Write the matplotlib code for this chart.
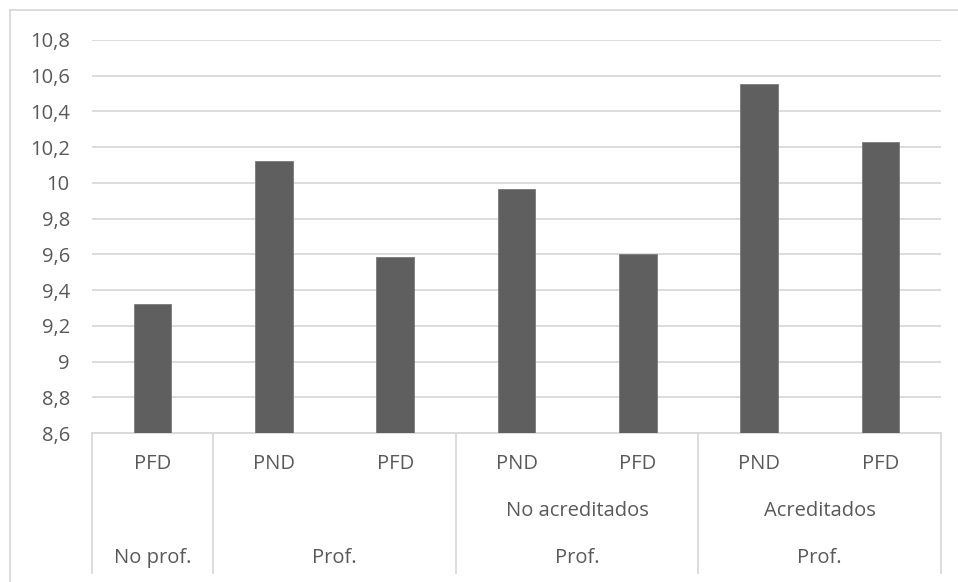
import numpy as np
import matplotlib.pyplot as plt
from matplotlib.lines import Line2D
from matplotlib import ticker

# mean scores per group
values = [9.32, 10.12, 9.585, 9.965, 9.60, 10.555, 10.23]
level1 = ["PFD", "PND", "PFD", "PND", "PFD", "PND", "PFD"]
# (first index, last index, label) for the lower category rows
level2 = [(3, 4, "No acreditados"), (5, 6, "Acreditados")]
level3 = [(0, 0, "No prof."), (1, 2, "Prof."), (3, 4, "Prof."), (5, 6, "Prof.")]
yticks = [8.6, 8.8, 9.0, 9.2, 9.4, 9.6, 9.8, 10.0, 10.2, 10.4, 10.6, 10.8]

plt.rcParams['font.family'] = ['Open Sans', 'DejaVu Sans']
txt = "#595959"
grid = "#d9d9d9"
fs = 14.5

fig = plt.figure(figsize=(9.58, 5.82), dpi=100)
W, H = 958, 582
ax = fig.add_axes([92 / W, 1 - 433 / H, (941 - 92) / W, (433 - 40) / H])

x = np.arange(len(values))
ax.bar(x, values, width=0.31, color="#5f5f5f", edgecolor="#7a7a7a", linewidth=0.6, zorder=3)

ax.set_xlim(-0.5, len(values) - 0.5)
ax.set_ylim(yticks[0], yticks[-1])
ax.set_yticks(yticks)
ax.yaxis.set_major_formatter(ticker.FuncFormatter(lambda v, p: f"{v:g}".replace(".", ",")))
ax.tick_params(axis="y", length=0, pad=16, labelsize=fs, labelcolor=txt)
ax.set_xticks([])
ax.grid(axis="y", color=grid, linewidth=1.3, zorder=0)
for s in ax.spines.values():
    s.set_visible(False)

# multi-level category axis, rows placed in axes fraction below the plot
ah = 433 - 40
y1, y2, y3, ybot = [(433 - py) / ah for py in (464, 511, 558, 573)]
tr = ax.get_xaxis_transform()
for i, lab in enumerate(level1):
    ax.text(i, y1, lab, transform=tr, ha="center", va="center", fontsize=fs, color=txt)
for a, b, lab in level2:
    ax.text((a + b) / 2, y2, lab, transform=tr, ha="center", va="center", fontsize=fs, color=txt)
for a, b, lab in level3:
    ax.text((a + b) / 2, y3, lab, transform=tr, ha="center", va="center", fontsize=fs, color=txt)

ax.add_line(Line2D([-0.5, len(values) - 0.5], [0, 0], transform=tr, color=grid,
                   linewidth=1.3, clip_on=False))
for b in [-0.5, 0.5, 2.5, 4.5, 6.5]:
    ax.add_line(Line2D([b, b], [0, ybot], transform=tr, color=grid,
                       linewidth=1.3, clip_on=False))

# chart frame
fig.add_artist(Line2D([10 / W, 1], [1 - 10 / H, 1 - 10 / H], color=grid, linewidth=1.3))
fig.add_artist(Line2D([10 / W, 10 / W], [0, 1 - 10 / H], color=grid, linewidth=1.3))

fig.savefig("out.png", dpi=100)
